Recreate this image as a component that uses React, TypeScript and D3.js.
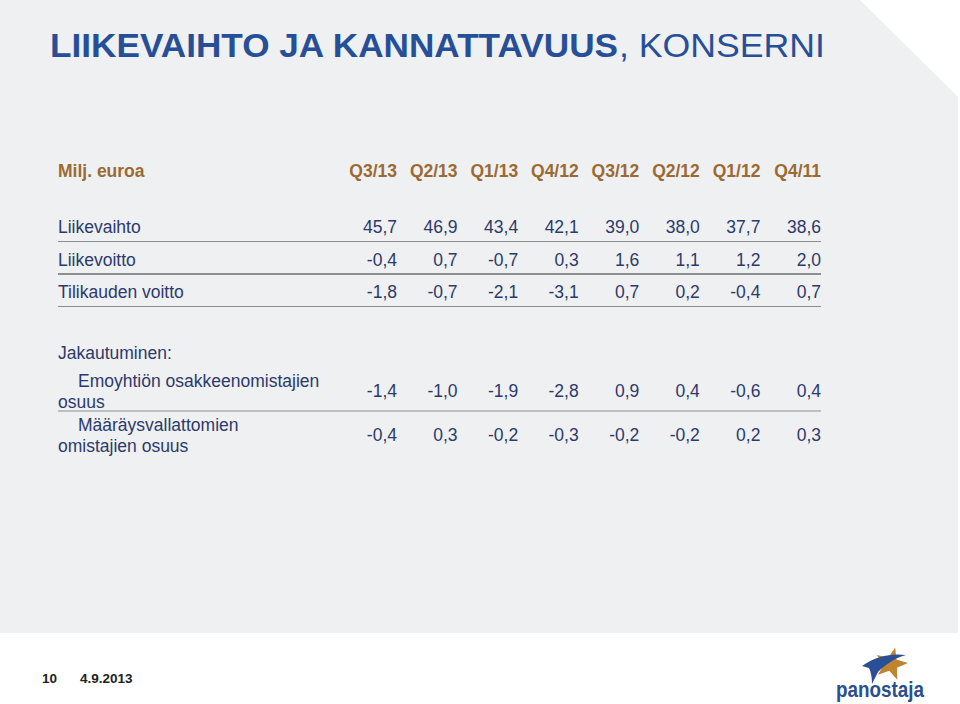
import React, { useRef, useEffect } from "react";
import * as d3 from "d3";

const quarters = ["Q3/13", "Q2/13", "Q1/13", "Q4/12", "Q3/12", "Q2/12", "Q1/12", "Q4/11"];

const mainRows = ["Liikevaihto", "Liikevoitto", "Tilikauden voitto"];
const liikevaihto = ["45,7", "46,9", "43,4", "42,1", "39,0", "38,0", "37,7", "38,6"];
const liikevoitto = ["-0,4", "0,7", "-0,7", "0,3", "1,6", "1,1", "1,2", "2,0"];
const tilikaudenVoitto = ["-1,8", "-0,7", "-2,1", "-3,1", "0,7", "0,2", "-0,4", "0,7"];

const splitRows = [
	["Emoyhtiön osakkeenomistajien", "osuus"],
	["Määräysvallattomien", "omistajien osuus"],
];
const emoyhtio = ["-1,4", "-1,0", "-1,9", "-2,8", "0,9", "0,4", "-0,6", "0,4"];
const maaraysvallattomat = ["-0,4", "0,3", "-0,2", "-0,3", "-0,2", "-0,2", "0,2", "0,3"];

const FONT = "'Liberation Sans', Arial, Helvetica, sans-serif";
const NAVY = "#2c3a6b";
const BROWN = "#9b6a33";
const BLUE = "#274f98";
const RULE = "#8e8e8e";

export default function App() {
	const ref = useRef<SVGSVGElement>(null);

	useEffect(() => {
		document.body.style.margin = "0";
		const svg = d3.select(ref.current);
		svg.selectAll("*").remove();

		// slide background
		svg.append("rect").attr("width", 960).attr("height", 704).attr("fill", "#ffffff");
		svg
			.append("path")
			.attr("d", "M0,0 L860,0 L958,97 L958,633 L0,633 Z")
			.attr("fill", "#eff0f2");

		// title
		svg
			.append("text")
			.attr("x", 50)
			.attr("y", 57)
			.attr("font-family", FONT)
			.attr("font-size", 34)
			.attr("font-weight", "bold")
			.attr("fill", BLUE)
			.attr("textLength", 568)
			.attr("lengthAdjust", "spacingAndGlyphs")
			.text("LIIKEVAIHTO JA KANNATTAVUUS");
		svg
			.append("text")
			.attr("x", 619)
			.attr("y", 57)
			.attr("font-family", FONT)
			.attr("font-size", 34)
			.attr("fill", BLUE)
			.attr("textLength", 206)
			.attr("lengthAdjust", "spacingAndGlyphs")
			.text(", KONSERNI");

		const x = d3.scalePoint<string>().domain(quarters).range([397, 821]);
		const left = 58;
		const right = 821;

		// header
		svg
			.append("text")
			.attr("x", left)
			.attr("y", 177)
			.attr("font-family", FONT)
			.attr("font-size", 17.5)
			.attr("font-weight", "bold")
			.attr("fill", BROWN)
			.text("Milj. euroa");
		svg
			.selectAll("text.head")
			.data(quarters)
			.enter()
			.append("text")
			.attr("class", "head")
			.attr("x", (d) => x(d) as number)
			.attr("y", 177)
			.attr("text-anchor", "end")
			.attr("font-family", FONT)
			.attr("font-size", 17.5)
			.attr("font-weight", "bold")
			.attr("fill", BROWN)
			.text((d) => d);

		// main rows
		const mainValues = [liikevaihto, liikevoitto, tilikaudenVoitto];
		const y = d3.scaleLinear().domain([0, 1]).range([233, 265.5]);

		mainRows.forEach((label, r) => {
			const base = y(r);
			svg
				.append("text")
				.attr("x", left)
				.attr("y", base)
				.attr("font-family", FONT)
				.attr("font-size", 17.5)
				.attr("fill", NAVY)
				.text(label);
			svg
				.selectAll("text.r" + r)
				.data(mainValues[r])
				.enter()
				.append("text")
				.attr("class", "r" + r)
				.attr("x", (_d, i) => x(quarters[i]) as number)
				.attr("y", base)
				.attr("text-anchor", "end")
				.attr("font-family", FONT)
				.attr("font-size", 17.5)
				.attr("fill", NAVY)
				.text((d) => d);
			svg
				.append("line")
				.attr("x1", left)
				.attr("x2", right)
				.attr("y1", base + 8.5)
				.attr("y2", base + 8.5)
				.attr("stroke", RULE)
				.attr("stroke-width", r === 1 ? 2 : 1.2);
		});

		// split
		svg
			.append("text")
			.attr("x", left)
			.attr("y", 359)
			.attr("font-family", FONT)
			.attr("font-size", 17.5)
			.attr("fill", NAVY)
			.text("Jakautuminen:");

		const splitValues = [emoyhtio, maaraysvallattomat];
		const y2 = d3.scaleLinear().domain([0, 1]).range([397, 441]);

		splitRows.forEach((lines, r) => {
			const base = y2(r);
			svg
				.append("text")
				.attr("x", left + 20)
				.attr("y", base - 10)
				.attr("font-family", FONT)
				.attr("font-size", 17.5)
				.attr("fill", NAVY)
				.text(lines[0]);
			svg
				.append("text")
				.attr("x", left)
				.attr("y", base + 10.5)
				.attr("font-family", FONT)
				.attr("font-size", 17.5)
				.attr("fill", NAVY)
				.text(lines[1]);
			svg
				.selectAll("text.s" + r)
				.data(splitValues[r])
				.enter()
				.append("text")
				.attr("class", "s" + r)
				.attr("x", (_d, i) => x(quarters[i]) as number)
				.attr("y", base)
				.attr("text-anchor", "end")
				.attr("font-family", FONT)
				.attr("font-size", 17.5)
				.attr("fill", NAVY)
				.text((d) => d);
			if (r === 0) {
				svg
					.append("line")
					.attr("x1", left)
					.attr("x2", right)
					.attr("y1", base + 14)
					.attr("y2", base + 14)
					.attr("stroke", RULE)
					.attr("stroke-width", 1.2);
			}
		});

		// footer
		svg
			.append("text")
			.attr("x", 42)
			.attr("y", 683)
			.attr("font-family", FONT)
			.attr("font-size", 13.5)
			.attr("font-weight", "bold")
			.attr("fill", "#222222")
			.text("10");
		svg
			.append("text")
			.attr("x", 80)
			.attr("y", 683)
			.attr("font-family", FONT)
			.attr("font-size", 13.5)
			.attr("font-weight", "bold")
			.attr("fill", "#222222")
			.text("4.9.2013");

		// logo
		const star = d3
			.range(10)
			.map((i) => {
				const a = -Math.PI / 2 + (i * Math.PI) / 5 + 0.25;
				const rr = i % 2 === 0 ? 17 : 7;
				return [891 + rr * Math.cos(a), 664 + rr * Math.sin(a)] as [number, number];
			});
		svg
			.append("path")
			.attr("d", d3.line()(star) + "Z")
			.attr("fill", "#c0832f");
		svg
			.append("path")
			.attr(
				"d",
				"M862,666 C876,656 892,653 906,655 C895,658 886,664 878,672 L872,684 C872,678 871,672 869,668 Z"
			)
			.attr("fill", "#2a4f96");
		svg
			.append("text")
			.attr("x", 836)
			.attr("y", 697)
			.attr("font-family", FONT)
			.attr("font-size", 22)
			.attr("font-weight", "bold")
			.attr("fill", "#2a4f8f")
			.attr("textLength", 88)
			.attr("lengthAdjust", "spacingAndGlyphs")
			.text("panostaja");
	}, []);

	return (
		<div style={{ position: "absolute", left: 0, top: 0 }}>
			<svg ref={ref} width={960} height={704} style={{ display: "block" }}></svg>
		</div>
	);
}
